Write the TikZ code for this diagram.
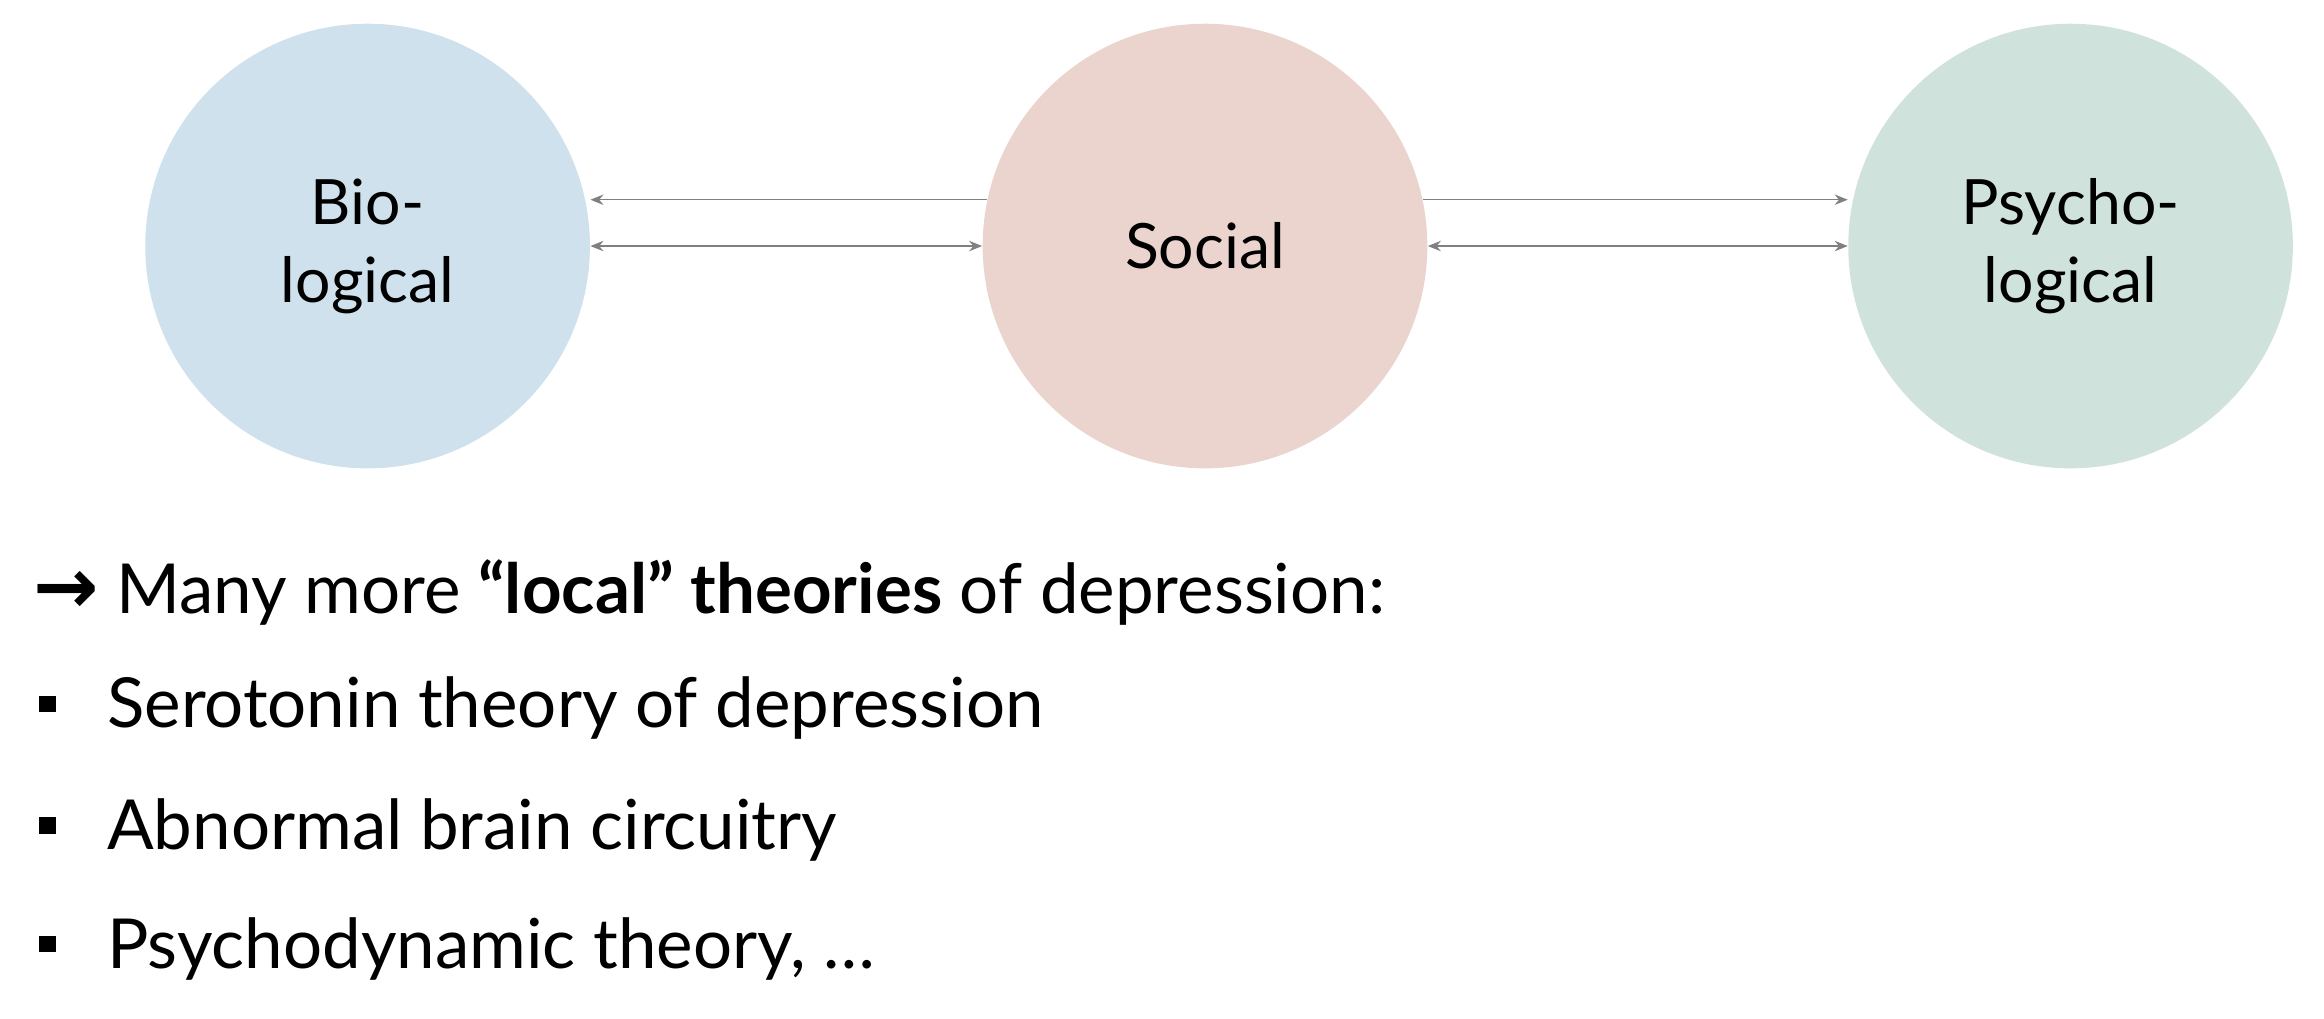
\documentclass[tikz,border=0pt]{standalone}
\usepackage{fontspec}
\setmainfont{Lato}
\newfontfamily\symfont{DejaVu Sans}
\usetikzlibrary{positioning,arrows.meta}
\definecolor{bioblue}{HTML}{CEE1EC}
\definecolor{socred}{HTML}{EAD4CD}
\definecolor{psygreen}{HTML}{CFE3DC}
\tikzset{
  circ/.style={circle, minimum size=6cm, inner sep=0pt, align=center, font=\fontsize{24}{30}\selectfont},
  link/.style={draw=gray, line width=0.6pt},
  listtext/.style={anchor=west, inner sep=0pt, font=\fontsize{26.5}{30}\selectfont},
  bulletbox/.style={fill=black, minimum size=0.22cm, inner sep=0pt}
}
\begin{document}
\begin{tikzpicture}[>={Stealth[length=5pt,width=4pt]}]
\useasboundingbox (0,0) rectangle (31.36,-13.74);

% circles
\node [circ, fill=bioblue] (bio) at (4.96,-3.32) {Bio-\\logical};
\node [circ, fill=socred] (soc) at (16.26,-3.32) {Social};
\node [circ, fill=psygreen] (psy) at (27.94,-3.32) {Psycho-\\logical};

% connectors
\draw [link, ->] (soc.168) -- (bio.east |- soc.168);
\draw [link, <->] (bio.east) -- (soc.west);
\draw [link, ->] (soc.12) -- (psy.west |- soc.12);
\draw [link, <->] (soc.east) -- (psy.west);

% list
\node [listtext] (head) at (0.44,-8.0) {{\symfont\bfseries\fontsize{30}{30}\selectfont →} Many more \textbf{“local” theories} of depression:};
\node [listtext] (l1) at (1.44,-9.56) {Serotonin theory of depression};
\node [listtext] (l2) at (1.44,-11.2) {Abnormal brain circuitry};
\node [listtext] (l3) at (1.44,-12.8) {Psychodynamic theory, …};
\node [bulletbox] (b1) at (0.64,-9.5) {};
\node [bulletbox] (b2) at (0.64,-11.14) {};
\node [bulletbox] (b3) at (0.64,-12.74) {};
\end{tikzpicture}
\end{document}
